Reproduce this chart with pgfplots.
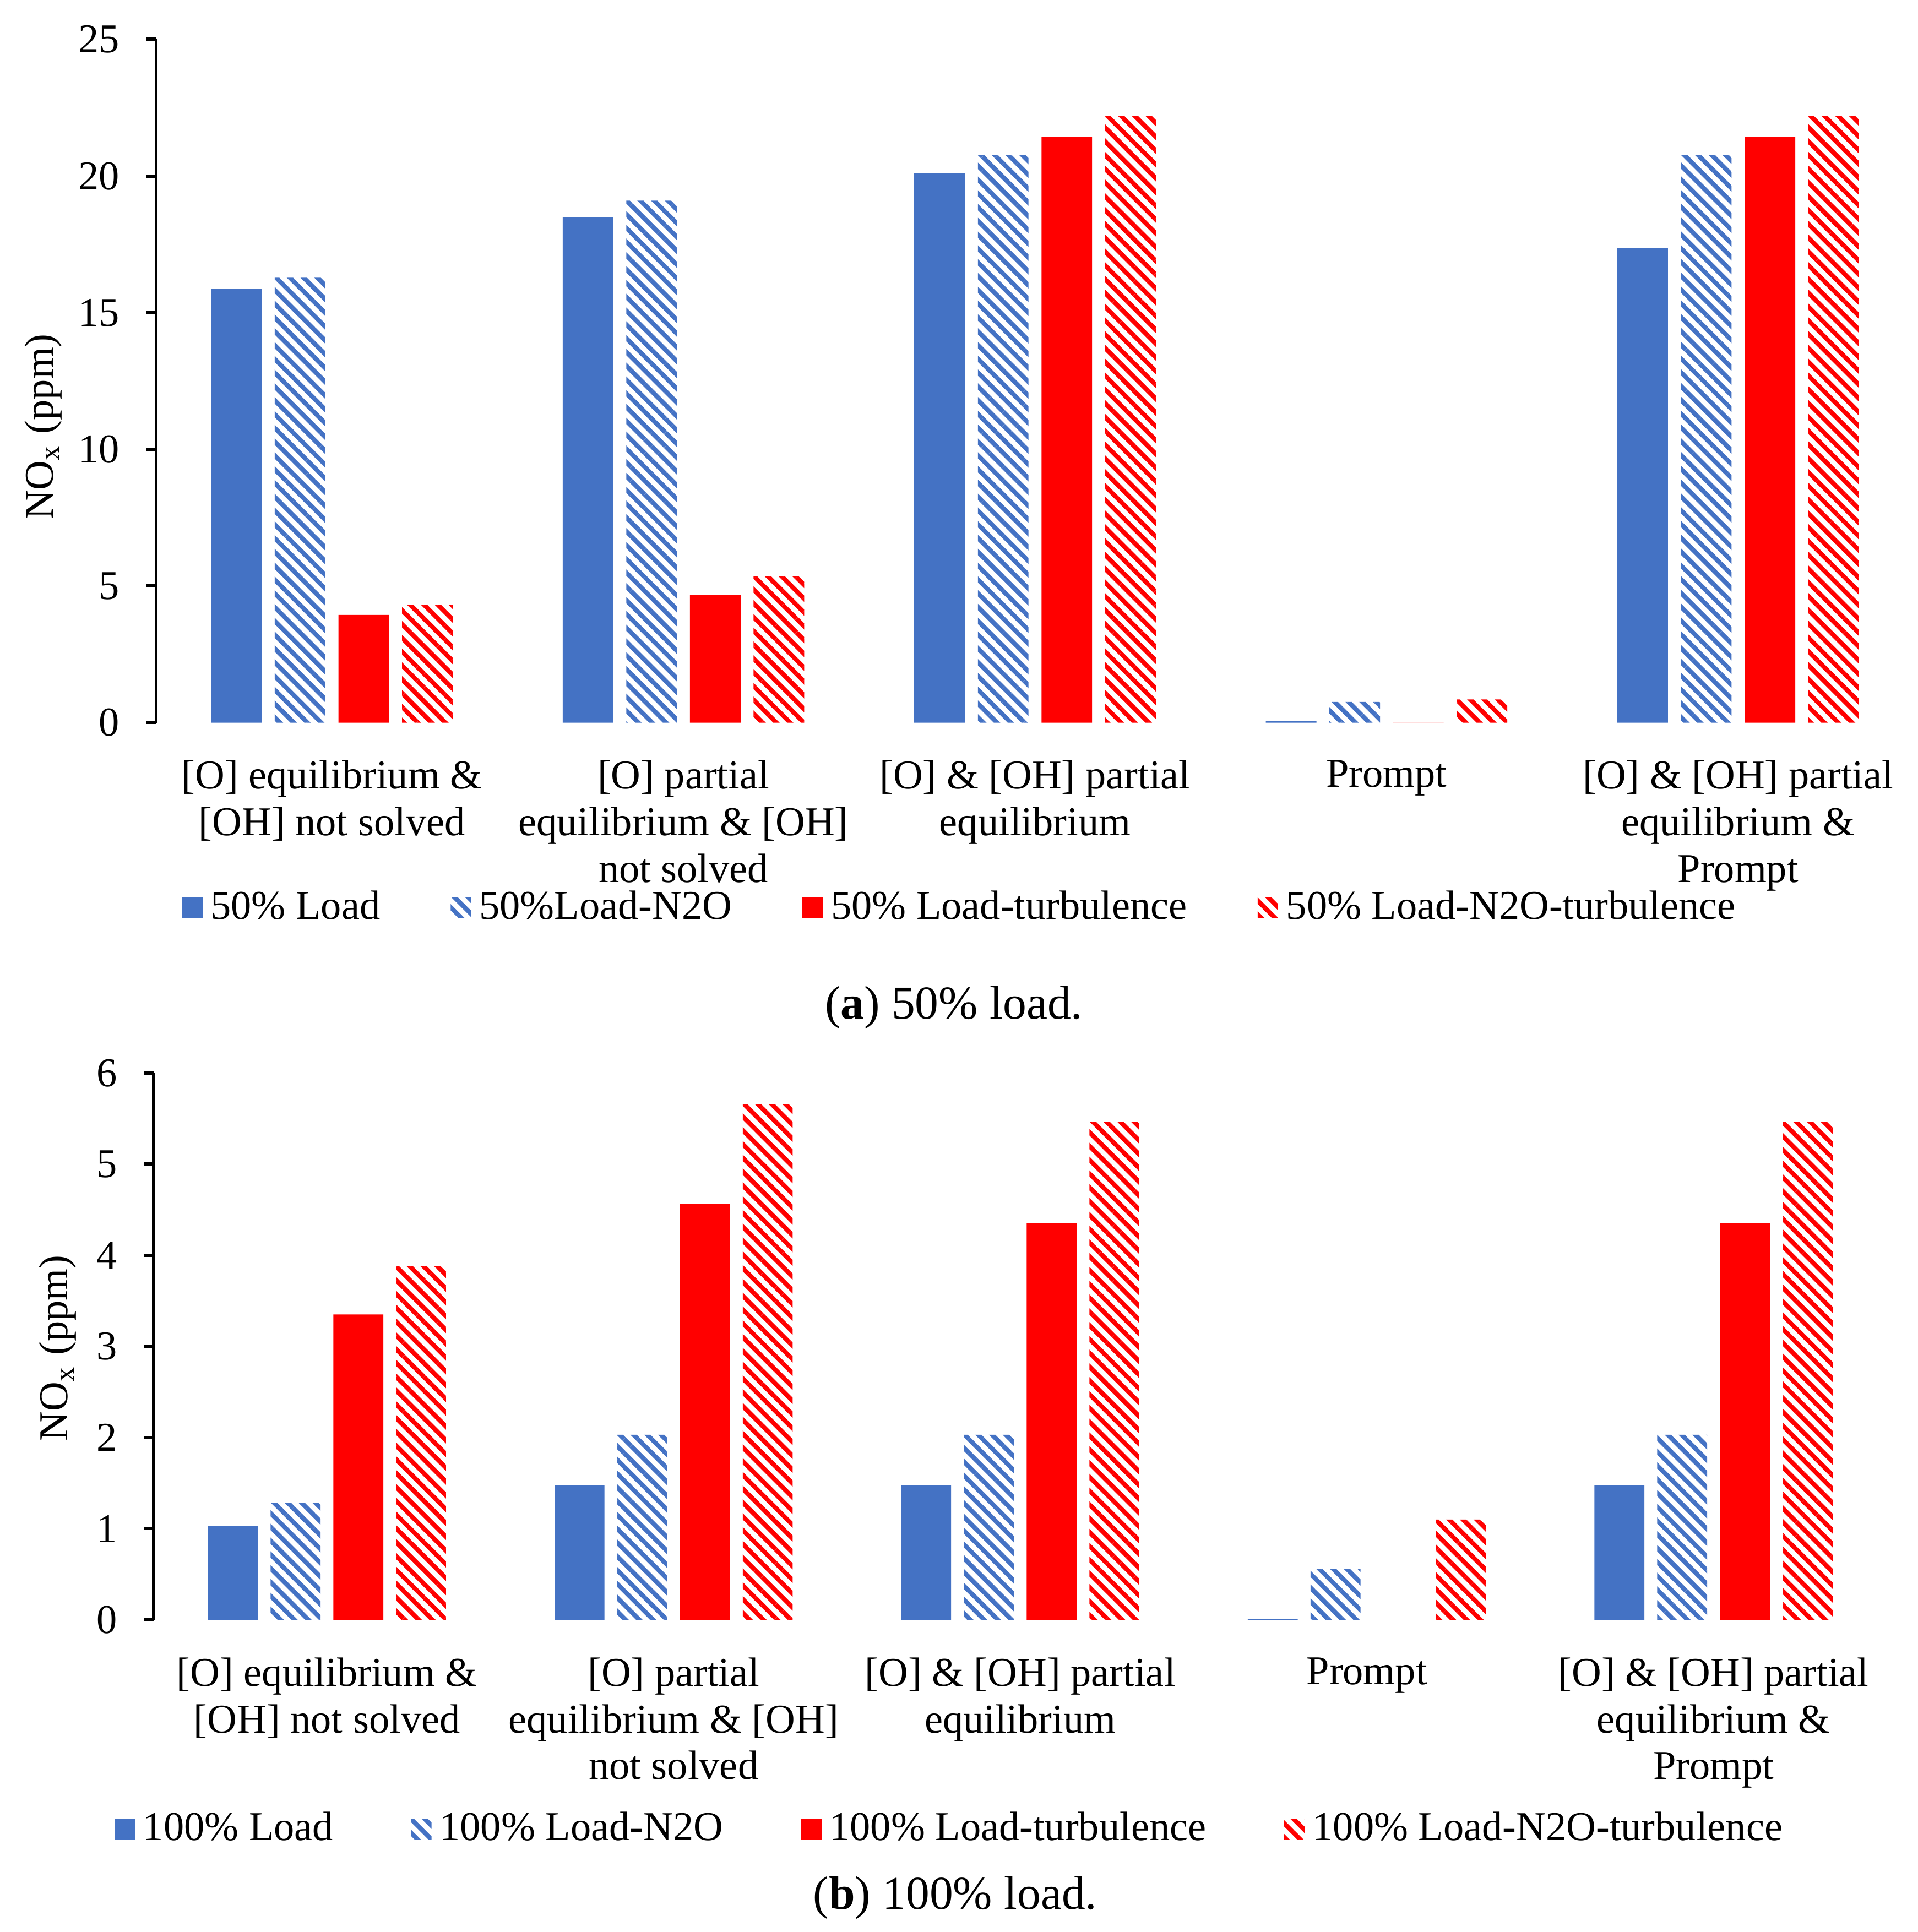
\documentclass[border=0pt]{standalone}
\usepackage{pgfplots}
\pgfplotsset{compat=1.18}
\usepackage{fontspec}
\setmainfont{Liberation Serif}
\usetikzlibrary{patterns.meta}
\definecolor{blueC}{HTML}{4472C4}
\definecolor{redC}{HTML}{FF0000}
\pgfplotsset{
  mybars/.style={
    scale only axis,
    xmin=-0.5, xmax=4.5, ymin=0,
    ybar, bar width=0.144,
    axis y line*=left, axis x line*=bottom,
    x axis line style={draw=none},
    y axis line style={line width=0.8pt, black},
    ytick style={line width=0.8pt, black},
    tick align=outside,
    major tick length=2.4pt,
    xtick={0,1,2,3,4}, xtick style={draw=none},
    xticklabels={{{[}O{]} equilibrium \&\\{[}OH{]} not solved},{{[}O{]} partial\\equilibrium \& {[}OH{]}\\not solved},{{[}O{]} \& {[}OH{]} partial\\equilibrium},{Prompt},{{[}O{]} \& {[}OH{]} partial\\equilibrium \&\\Prompt}},
    xticklabel style={align=center, font=\fontsize{10}{11.4}\selectfont, yshift=-3.3pt},
    yticklabel style={font=\fontsize{10}{12}\selectfont, xshift=-3pt},
    /pgf/number format/assume math mode=true,
    ylabel={NO\textsubscript{x} (ppm)},
    ylabel style={font=\fontsize{12}{14}\selectfont},
    legend columns=4,
    legend style={draw=none, fill=none, font=\fontsize{10}{12}\selectfont,
      /tikz/every even column/.append style={column sep=15.2pt}},
    every axis plot post/.append style={legend image code/.code={\fill[##1] (0pt,-2.5pt) rectangle (5pt,2.5pt);}},
  },
  s1/.style={fill=blueC, draw=none, bar shift=-0.2715},
  s2/.style={draw=none, pattern={Lines[angle=-45,distance=2.38pt,line width=1.1pt]}, pattern color=blueC, bar shift=-0.0905},
  s3/.style={fill=redC, draw=none, bar shift=0.0905},
  s4/.style={draw=none, pattern={Lines[angle=-45,distance=2.38pt,line width=1.1pt]}, pattern color=redC, bar shift=0.2715},
}
\begin{document}
\begin{tikzpicture}
\useasboundingbox (0,0) rectangle (468pt,471.6pt);
% ---------- (a) ----------
\begin{axis}[mybars,
  at={(38.1pt,295.2pt)}, anchor=south west,
  width=429pt, height=166.8pt,
  ymax=25, ytick={0,5,10,15,20,25},
  every axis y label/.style={at={(axis description cs:-0.0643,0.433)}, rotate=90, anchor=center},
  legend style={at={(axis description cs:0.459,-0.271)}, anchor=center},
]
\addplot[s1] coordinates {(0,15.87) (1,18.5) (2,20.1) (3,0.05) (4,17.36)};
\addplot[s2] coordinates {(0,16.28) (1,19.1) (2,20.76) (3,0.76) (4,20.76)};
\addplot[s3] coordinates {(0,3.94) (1,4.68) (2,21.43) (3,0) (4,21.43)};
\addplot[s4] coordinates {(0,4.31) (1,5.35) (2,22.2) (3,0.85) (4,22.2)};
\legend{50\% Load, 50\%Load-N2O, 50\% Load-turbulence, 50\% Load-N2O-turbulence}
\end{axis}
% ---------- (b) ----------
\begin{axis}[mybars,
  at={(37.5pt,76.2pt)}, anchor=south west,
  width=423pt, height=133.5pt,
  ymax=6, ytick={0,1,2,3,4,5,6},
  every axis y label/.style={at={(axis description cs:-0.0553,0.497)}, rotate=90, anchor=center},
  legend style={at={(axis description cs:0.461,-0.3825)}, anchor=center,
    /tikz/every even column/.append style={column sep=17pt}},
]
\addplot[s1] coordinates {(0,1.03) (1,1.48) (2,1.48) (3,0.01) (4,1.48)};
\addplot[s2] coordinates {(0,1.28) (1,2.03) (2,2.03) (3,0.56) (4,2.03)};
\addplot[s3] coordinates {(0,3.35) (1,4.56) (2,4.35) (3,0) (4,4.35)};
\addplot[s4] coordinates {(0,3.88) (1,5.66) (2,5.46) (3,1.10) (4,5.46)};
\legend{100\% Load, 100\% Load-N2O, 100\% Load-turbulence, 100\% Load-N2O-turbulence}
\end{axis}
\node[font=\fontsize{11.5}{13}\selectfont] at (232.8pt,225.6pt) {(\textbf{a}) 50\% load.};
\node[font=\fontsize{11.5}{13}\selectfont] at (233.1pt,8.4pt) {(\textbf{b}) 100\% load.};
\end{tikzpicture}
\end{document}
